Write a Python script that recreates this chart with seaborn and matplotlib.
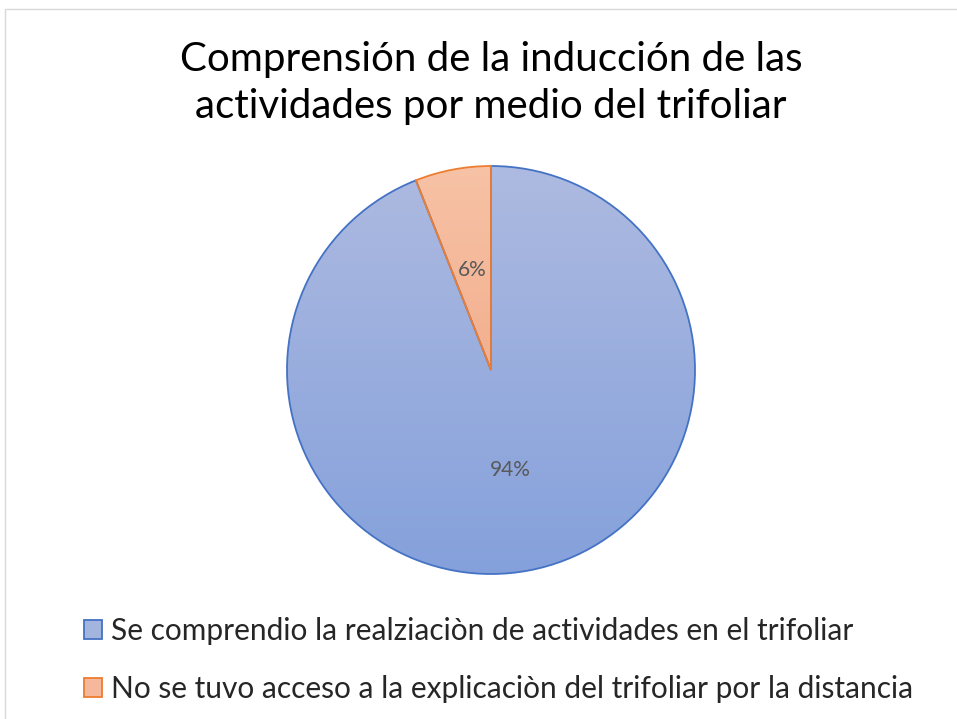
import matplotlib.pyplot as plt
import seaborn as sns
import numpy as np
from matplotlib.patches import Rectangle, Patch
import matplotlib.colors

categories = ["Se comprendio la realziaciòn de actividades en el trifoliar",
              "No se tuvo acceso a la explicaciòn del trifoliar por la distancia"]
values = [94, 6]
title = "Comprensión de la inducción de las\nactividades por medio del trifoliar"

edge_colors = ["#4472C4", "#ED7D31"]
grad_colors = [[(0.68, 0.73, 0.88), (0.52, 0.63, 0.86)],
               [(0.97, 0.76, 0.65), (0.93, 0.62, 0.47)]]
face_colors = ["#A3B4DE", "#F5B89C"]

sns.set_theme(style="white")
plt.rcParams['font.family'] = ['Lato', 'DejaVu Sans']

W, H = 957, 719
fig = plt.figure(figsize=(W / 100, H / 100), dpi=100)
fig.patch.set_facecolor("white")

# chart frame
fig.patches.append(Rectangle((5 / W, -0.01), 1.01, (H - 9) / H + 0.01, transform=fig.transFigure,
                             fill=False, edgecolor="#D9D9D9", linewidth=1.0))

cx, cy, r = 491, 370, 204
pad = 210
ax = fig.add_axes([(cx - pad) / W, (H - cy - pad) / H, 2 * pad / W, 2 * pad / H])
lim = pad / r

wedges, texts, autotexts = ax.pie(values, startangle=90, counterclock=False,
                                  colors=face_colors, autopct="%1.0f%%", pctdistance=0.5,
                                  wedgeprops=dict(linewidth=1.3),
                                  textprops=dict(color="#595959", fontsize=15))
for w, ec, gc in zip(wedges, edge_colors, grad_colors):
    w.set_edgecolor(ec)
    cmap = matplotlib.colors.LinearSegmentedColormap.from_list("", [gc[0], gc[1]])
    grad = np.linspace(0, 1, 256).reshape(-1, 1)
    im = ax.imshow(grad, cmap=cmap, extent=[-1, 1, -1, 1], origin="upper",
                   aspect="auto", zorder=w.get_zorder() - 0.01)
    im.set_clip_path(w)
    w.set_facecolor("none")
for t in autotexts:
    t.set_zorder(5)

ax.set_xlim(-lim, lim)
ax.set_ylim(-lim, lim)
ax.set_aspect("equal")
ax.axis("off")

fig.text(491 / W, 1 - 83 / H, title, ha="center", va="center", fontsize=29,
         color="#000000", linespacing=1.32)

handles = [Patch(facecolor=fc, edgecolor=ec, linewidth=1.3) for fc, ec in zip(face_colors, edge_colors)]
fig.legend(handles, categories, loc="upper left", bbox_to_anchor=(84 / W, 1 - 617 / H),
           frameon=False, fontsize=21.5, handlelength=0.6, handleheight=0.6,
           handletextpad=0.3, labelspacing=1.0, borderaxespad=0, borderpad=0)

fig.savefig("out.png", dpi=100)
